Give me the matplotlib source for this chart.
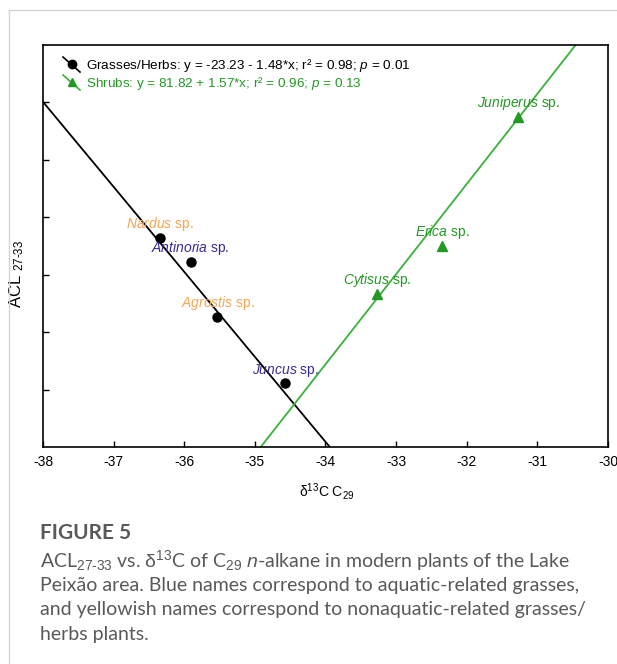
import numpy as np
import matplotlib.pyplot as plt
from matplotlib.lines import Line2D

plt.rcParams['font.family'] = ['Liberation Sans', 'DejaVu Sans']
plt.rcParams['mathtext.fontset'] = 'custom'
plt.rcParams['mathtext.rm'] = 'Liberation Sans'
plt.rcParams['mathtext.it'] = 'Liberation Sans:italic'

# data
grass_names = ["Nardus", "Antinoria", "Agrostis", "Juncus"]
grass_x = [-36.34, -35.91, -35.53, -34.57]
grass_y = [30.64, 30.23, 29.26, 28.11]
grass_aquatic = [False, True, False, True]

shrub_names = ["Juniperus", "Erica", "Cytisus"]
shrub_x = [-31.27, -32.35, -33.27]
shrub_y = [32.74, 30.50, 29.66]

# regression coefficients from the legend
grass_fit = (-23.23, -1.48)
shrub_fit = (81.82, 1.57)

x_ticks = [-38, -37, -36, -35, -34, -33, -32, -31, -30]
y_ticks = [28, 29, 30, 31, 32, 33]

BLACK = "#000000"
GREEN_LINE = "#3bb03b"
GREEN = "#229922"
ORANGE = "#f7a452"
BLUE = "#3a2a96"

fig = plt.figure(figsize=(6.17, 6.64), dpi=100)
ax = fig.add_axes([0.0697, 0.3268, 0.9157, 0.6054])

# regression lines
xx = np.linspace(-38, -30, 200)
ax.plot(xx, grass_fit[0] + grass_fit[1] * xx, color=BLACK, lw=1.3)
ax.plot(xx, shrub_fit[0] + shrub_fit[1] * xx, color=GREEN_LINE, lw=1.3)

# points
ax.plot(grass_x, grass_y, 'o', color=BLACK, ms=6.5, zorder=3)
ax.plot(shrub_x, shrub_y, '^', color=GREEN, ms=6.5, zorder=3)

# species labels (offsets in points)
grass_off = [(0, 10), (0, 10), (0, 10), (0, 9.5)]
for n, x, y, aq, off in zip(grass_names, grass_x, grass_y, grass_aquatic, grass_off):
    ax.annotate(r'$\mathit{%s}$ sp.' % n, (x, y), xytext=off, textcoords='offset points',
                ha='center', va='center', fontsize=10, color=BLUE if aq else ORANGE)
shrub_off = [(0, 10), (0, 10), (0, 10)]
for n, x, y, off in zip(shrub_names, shrub_x, shrub_y, shrub_off):
    ax.annotate(r'$\mathit{%s}$ sp.' % n, (x, y), xytext=off, textcoords='offset points',
                ha='center', va='center', fontsize=10, color=GREEN)

ax.set_xlim(-38, -30)
ax.set_ylim(27, 34)
ax.set_xticks(x_ticks)
ax.set_xticklabels([str(t) for t in x_ticks])
ax.set_yticks(y_ticks)
ax.set_yticklabels([])
ax.tick_params(direction='in', length=4.5, width=1, labelsize=10, pad=6)
for s in ax.spines.values():
    s.set_linewidth(1.2)

ax.set_xlabel(r'$\mathrm{\delta}^{13}$C C$_{29}$', fontsize=10)
ax.xaxis.set_label_coords(0.503, -0.085)
ax.set_ylabel(r'ACL $_{27\text{-}33}$', fontsize=12)
ax.yaxis.set_label_coords(-0.03, 0.43)

# legend drawn by hand, diagonal handles like the original
t = ax.transAxes
def px(xp, yp):
    return ((xp - 43) / 565, (447 - yp) / 402)
for y0, col, mk, lab in [(65, BLACK, 'o', 'Grasses/Herbs: y = -23.23 - 1.48*x; r² = 0.98; $p$ = 0.01'),
                         (83, GREEN, '^', 'Shrubs: y = 81.82 + 1.57*x; r² = 0.96; $p$ = 0.13')]:
    a = px(63, y0 - 8)
    b = px(80, y0 + 7)
    ax.plot([a[0], b[0]], [a[1], b[1]], color=GREEN_LINE if col == GREEN else col, lw=1.2, transform=t, clip_on=False)
    m = px(72, y0 - 1)
    ax.plot([m[0]], [m[1]], mk, color=col, ms=6, transform=t, clip_on=False)
    p = px(86, y0)
    ax.text(p[0], p[1], lab, transform=t, fontsize=9.7, color=col, va='center', ha='left')

# page frame
fig.add_artist(Line2D([9 / 617, 1], [1 - 10 / 664] * 2, color='#d4d4d4', lw=1))
fig.add_artist(Line2D([9 / 617] * 2, [0, 1 - 10 / 664], color='#d4d4d4', lw=1))

# caption
cap = dict(family=['Lato', 'DejaVu Sans'], color='#595959')
fig.text(40 / 617, 1 - 533 / 664, "FIGURE 5", fontsize=15, fontweight='bold', va='center', **cap)
lines = [r"ACL$_{27\text{-}33}$ vs. $\mathrm{\delta}^{13}$C of C$_{29}$ $n$-alkane in modern plants of the Lake",
         "Peixão area. Blue names correspond to aquatic-related grasses,",
         "and yellowish names correspond to nonaquatic-related grasses/",
         "herbs plants."]
for i, s in enumerate(lines):
    fig.text(40 / 617, 1 - (561 + 24.5 * i) / 664, s, fontsize=14, va='center', **cap)

fig.savefig("out.png", dpi=100)
